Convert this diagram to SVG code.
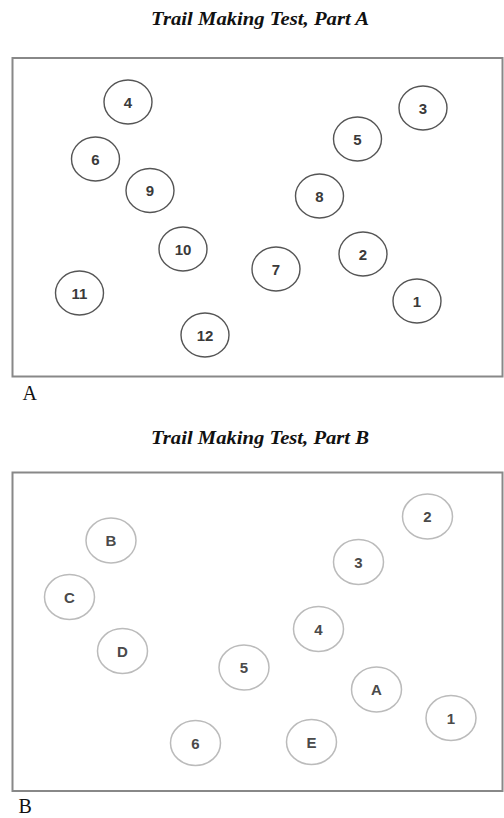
<svg xmlns="http://www.w3.org/2000/svg" width="504" height="818" viewBox="0 0 504 818">
<style>
.title{font-family:"Liberation Serif","Times New Roman",serif;font-weight:bold;font-style:italic;font-size:18px;fill:#111;text-anchor:middle}
.frame{fill:#fff;stroke:#888;stroke-width:2}
.na ellipse{fill:none;stroke:#555;stroke-width:1.4}
.na text{font-family:"Liberation Sans",Arial,sans-serif;font-size:15px;font-weight:bold;fill:#3a3a3a;text-anchor:middle}
.nb ellipse{fill:none;stroke:#bbb;stroke-width:1.5}
.nb text{font-family:"Liberation Sans",Arial,sans-serif;font-size:15px;font-weight:bold;fill:#4a4a4a;text-anchor:middle}
.lbl{font-family:"Liberation Serif","Times New Roman",serif;font-size:20px;fill:#111}
</style>
<rect width="504" height="818" fill="#fff"/>
<text class="title" x="260" y="25" textLength="218" lengthAdjust="spacingAndGlyphs">Trail Making Test, Part A</text>
<rect class="frame" x="12.5" y="58" width="490" height="318.5"/>
<g id="connectors-a"></g>
<g class="na">
<g id="a1"><ellipse cx="417" cy="301" rx="24" ry="22"/><text x="417" y="306.5">1</text></g>
<g id="a2"><ellipse cx="363" cy="254" rx="24" ry="22"/><text x="363" y="259.5">2</text></g>
<g id="a3"><ellipse cx="423" cy="108" rx="24" ry="22"/><text x="423" y="113.5">3</text></g>
<g id="a4"><ellipse cx="128" cy="102" rx="24" ry="22"/><text x="128" y="107.5">4</text></g>
<g id="a5"><ellipse cx="357.5" cy="139" rx="24" ry="22"/><text x="357.5" y="144.5">5</text></g>
<g id="a6"><ellipse cx="95.5" cy="159" rx="24" ry="22"/><text x="95.5" y="164.5">6</text></g>
<g id="a7"><ellipse cx="276" cy="269" rx="24" ry="22"/><text x="276" y="274.5">7</text></g>
<g id="a8"><ellipse cx="319.5" cy="196" rx="24" ry="22"/><text x="319.5" y="201.5">8</text></g>
<g id="a9"><ellipse cx="150" cy="190.5" rx="24" ry="22"/><text x="150" y="196">9</text></g>
<g id="a10"><ellipse cx="183" cy="249" rx="24" ry="22"/><text x="183" y="254.5">10</text></g>
<g id="a11"><ellipse cx="79.5" cy="293" rx="24" ry="22"/><text x="79.5" y="298.5">11</text></g>
<g id="a12"><ellipse cx="205" cy="335" rx="24" ry="22"/><text x="205" y="340.5">12</text></g>
</g>
<text class="lbl" x="22.5" y="400">A</text>
<text class="title" x="260" y="443.5" textLength="218" lengthAdjust="spacingAndGlyphs">Trail Making Test, Part B</text>
<rect class="frame" x="12.5" y="472.5" width="490" height="318.5"/>
<g id="connectors-b"></g>
<g class="nb">
<g id="b1"><ellipse cx="451" cy="718" rx="25" ry="22.5"/><text x="451" y="723.5">1</text></g>
<g id="b2"><ellipse cx="427.5" cy="516.5" rx="25" ry="22.5"/><text x="427.5" y="522">2</text></g>
<g id="b3"><ellipse cx="358.5" cy="562" rx="25" ry="22.5"/><text x="358.5" y="567.5">3</text></g>
<g id="b4"><ellipse cx="318.5" cy="629" rx="25" ry="22.5"/><text x="318.5" y="634.5">4</text></g>
<g id="b5"><ellipse cx="244" cy="667.5" rx="25" ry="22.5"/><text x="244" y="673">5</text></g>
<g id="b6"><ellipse cx="195.5" cy="743" rx="25" ry="22.5"/><text x="195.5" y="748.5">6</text></g>
<g id="bA"><ellipse cx="376.5" cy="689.5" rx="25" ry="22.5"/><text x="376.5" y="695">A</text></g>
<g id="bB"><ellipse cx="111" cy="540.5" rx="25" ry="22.5"/><text x="111" y="546">B</text></g>
<g id="bC"><ellipse cx="69.5" cy="597" rx="25" ry="22.5"/><text x="69.5" y="602.5">C</text></g>
<g id="bD"><ellipse cx="122.5" cy="651" rx="25" ry="22.5"/><text x="122.5" y="656.5">D</text></g>
<g id="bE"><ellipse cx="311.5" cy="742" rx="25" ry="22.5"/><text x="311.5" y="747.5">E</text></g>
</g>
<text class="lbl" x="18.5" y="813">B</text>
</svg>
